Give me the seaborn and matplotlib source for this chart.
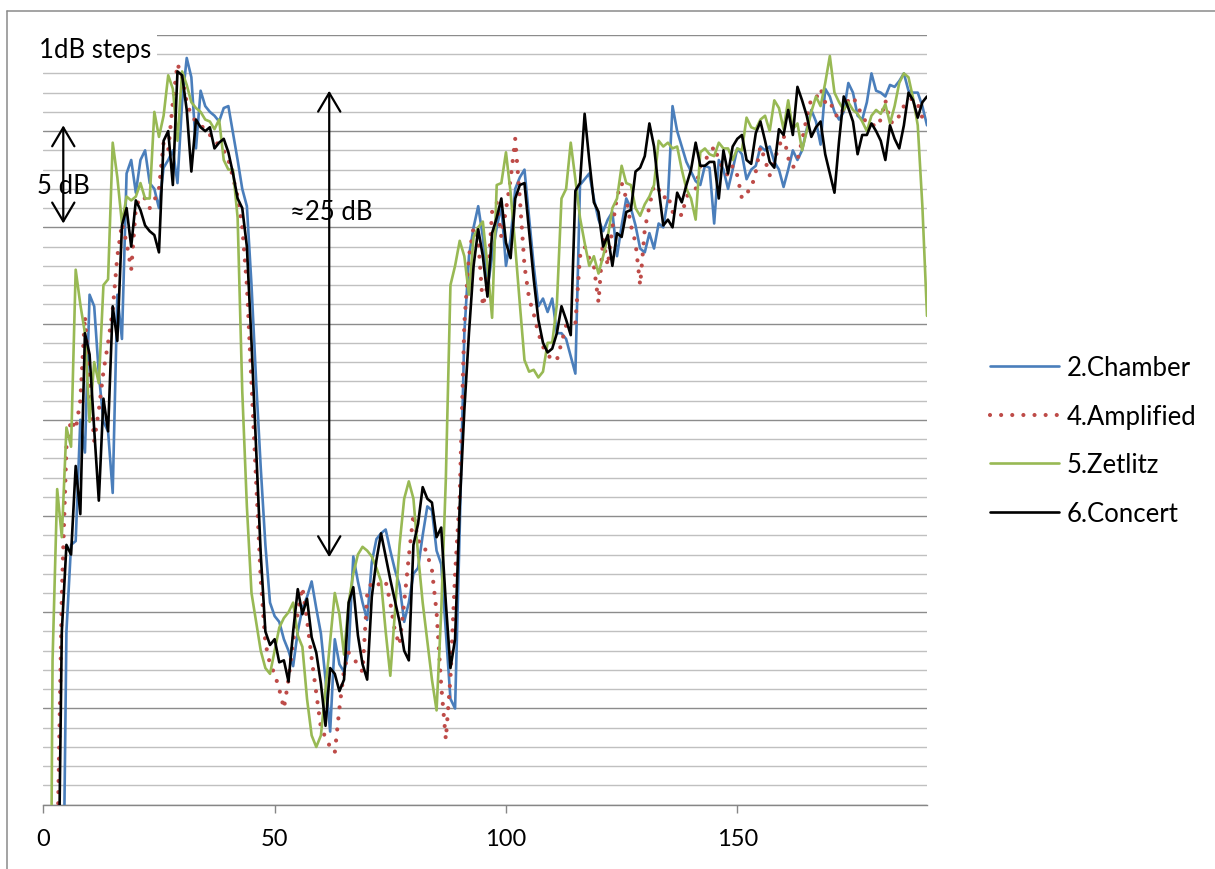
import matplotlib
matplotlib.use("Agg")
import matplotlib.pyplot as plt
import seaborn as sns
import pandas as pd
from matplotlib.patches import FancyArrowPatch, ArrowStyle
from matplotlib.lines import Line2D
from matplotlib.ticker import MultipleLocator

# ---------------- data (relative level in dB) ----------------
x_index = list(range(1, 192))

chamber = [
    -10, -10, -10, -12, 9, 13.5, 13.7, 20.0, 18.3, 26.5,
    25.9, 22.4, 19.9, 19.4, 16.2, 26.5, 24.2, 32.8, 33.5, 31.8,
    33.5, 34.0, 32.3, 32.0, 31.0, 33.1, 33.5, 34.0, 32.3, 36.5,
    38.8, 37.8, 34.1, 37.1, 36.3, 36.0, 35.8, 35.5, 36.2, 36.3,
    34.9, 33.5, 32.0, 31.1, 27.0, 22.0, 17.5, 13.5, 10.5, 9.8,
    9.5, 8.6, 8.0, 7.2, 9.0, 10.2, 10.8, 11.6, 10.2, 8.9,
    6.5, 3.8, 8.6, 7.3, 6.9, 8.0, 12.9, 11.6, 10.5, 9.6,
    12.6, 13.8, 14.1, 14.3, 13.2, 12.2, 11.4, 9.5, 10.5, 12.0,
    12.3, 14.0, 15.5, 15.3, 13.2, 12.5, 9.0, 5.5, 5.0, 14.3,
    24.5, 28.5, 30.0, 31.1, 29.5, 26.8, 28.5, 30.0, 31.1, 28.0,
    29.4, 32.0, 32.6, 33.0, 30.5, 28.0, 25.9, 26.3, 25.6, 26.3,
    24.5, 24.5, 24.2, 23.3, 22.4, 32.2, 32.5, 32.8, 31.5, 30.4,
    29.8, 30.4, 30.8, 28.5, 30.1, 31.5, 31.0, 30.1, 28.9, 28.7,
    29.7, 28.9, 30.2, 30.0, 31.5, 36.3, 35.0, 34.2, 33.4, 32.9,
    32.4, 32.2, 33.2, 33.1, 30.2, 33.5, 33.0, 32.0, 33.0, 34.1,
    33.8, 32.5, 33.0, 33.2, 34.2, 34.0, 34.2, 33.4, 33.0, 32.1,
    33.0, 34.0, 33.5, 34.0, 35.1, 36.1, 35.5, 34.3, 37.2, 36.8,
    36.0, 35.6, 36.0, 37.5, 37.0, 35.8, 35.6, 36.5, 38.0, 37.1,
    37.0, 36.8, 37.4, 37.3, 37.6, 38.0, 37.1, 37.0, 37.0, 36.3,
    35.3,
]

amplified = [
    -12, -12, -3, 10.9, 18.6, 20.0, 19.5, 21.0, 25.4, 21.9,
    18.9, 20.5, 22.5, 24.0, 25.7, 28.5, 30.2, 29.2, 27.8, 31.0,
    31.6, 31.5, 31.0, 31.4, 32.0, 34.4, 34.0, 36.5, 38.5, 37.8,
    36.5, 35.8, 35.5, 35.3, 35.1, 34.8, 34.6, 34.2, 34.0, 33.5,
    32.6, 31.6, 30.0, 27.0, 21.9, 16.8, 11.7, 8.4, 7.3, 6.8,
    6.0, 5.0, 6.5, 8.5, 10.0, 11.3, 9.6, 7.6, 5.8, 4.0,
    3.5, 3.0, 2.7, 5.0, 7.0, 7.9, 7.6, 7.3, 6.9, 10.9,
    11.6, 11.5, 11.4, 11.6, 10.5, 9.0, 8.3, 10.5, 12.9, 15.1,
    13.7, 13.6, 13.0, 12.2, 10.0, 6.2, 3.4, 6.6, 12.0, 16.0,
    25.0, 28.5, 30.0, 29.4, 25.9, 27.0, 30.8, 31.3, 29.5, 30.9,
    32.5, 34.6, 31.5, 28.0, 26.3, 25.5, 24.5, 23.8, 23.4, 23.1,
    23.1, 24.0, 24.9, 25.0, 25.0, 28.5, 29.0, 28.4, 28.0, 26.1,
    29.4, 28.0, 30.0, 31.6, 32.3, 31.5, 30.1, 29.2, 27.0, 29.9,
    31.1, 32.2, 32.0, 31.5, 31.7, 30.8, 30.9, 30.6, 31.6, 31.8,
    32.0, 33.2, 33.5, 33.8, 34.2, 33.5, 33.0, 32.7, 33.2, 32.7,
    31.5, 31.8, 32.0, 32.9, 34.2, 33.5, 32.7, 33.5, 34.2, 34.8,
    33.6, 33.1, 33.5, 34.5, 35.7, 36.7, 36.7, 37.2, 36.5, 36.6,
    35.9, 35.7, 36.2, 36.6, 36.8, 36.3, 35.8, 35.4, 35.4, 35.2,
    35.6, 36.6, 35.5, 35.4, 35.8, 36.3, 36.6, 36.7, 36.4, 35.7,
    35.6,
]

zetlitz = [
    -30, 7.5, 16.4, 13.9, 19.6, 18.6, 27.8, 26.0, 24.5, 19.9,
    23.0, 21.9, 27.0, 27.3, 34.4, 32.6, 30.2, 31.6, 31.4, 31.6,
    32.3, 31.5, 31.5, 36.0, 34.7, 35.8, 37.9, 37.2, 34.5, 38.1,
    37.4, 36.5, 36.2, 36.0, 35.6, 35.5, 35.1, 35.6, 33.5, 33.0,
    33.0, 30.5, 21.5, 15.5, 11.0, 9.5, 8.0, 7.1, 6.8, 8.0,
    9.2, 9.7, 10.0, 10.5, 8.8, 8.2, 5.5, 3.6, 3.0, 3.6,
    6.0, 8.5, 11.0, 9.9, 7.8, 10.5, 12.0, 13.0, 13.4, 13.2,
    12.9, 12.3, 11.6, 9.0, 6.7, 10.0, 13.5, 15.9, 16.8, 15.9,
    13.0, 10.5, 8.5, 6.5, 4.9, 10.0, 16.9, 27.0, 28.0, 29.3,
    28.5, 26.5, 29.5, 30.0, 30.3, 28.0, 25.3, 32.2, 32.3, 33.9,
    31.8, 29.0, 26.0, 23.1, 22.5, 22.6, 22.2, 22.5, 24.0, 24.0,
    26.0, 31.5, 32.0, 34.4, 32.5, 30.5, 29.2, 28.0, 28.5, 27.6,
    28.5, 29.5, 31.0, 31.5, 33.2, 32.3, 32.2, 31.0, 30.6, 31.2,
    31.6, 32.2, 34.5, 34.2, 34.4, 34.1, 34.2, 33.0, 32.0, 31.5,
    30.4, 33.9, 34.1, 33.8, 33.7, 34.4, 34.1, 34.1, 33.5, 34.1,
    34.0, 35.7, 35.2, 35.1, 35.6, 35.8, 35.0, 36.6, 36.2, 35.1,
    36.6, 35.1, 35.4, 34.0, 35.0, 36.0, 36.8, 36.3, 37.5, 38.9,
    37.0, 36.5, 36.1, 36.5, 36.1, 35.9, 35.5, 35.0, 35.8, 36.1,
    35.9, 36.4, 35.4, 36.3, 37.5, 38.0, 37.8, 36.7, 35.3, 31.1,
    25.4,
]

concert = [
    -12, -12, -10, 9.0, 13.5, 13.0, 17.6, 15.1, 24.5, 23.4,
    19.5, 15.8, 21.1, 19.4, 25.9, 24.1, 30.1, 31.0, 29.0, 31.4,
    30.9, 30.1, 29.8, 29.6, 28.7, 34.5, 35.0, 32.2, 38.1, 37.9,
    36.1, 32.9, 35.6, 35.2, 35.0, 35.2, 34.1, 34.4, 34.6, 33.9,
    32.8, 31.5, 31.0, 29.0, 24.0, 18.5, 13.0, 9.0, 8.3, 8.6,
    7.4, 7.5, 6.4, 9.0, 11.2, 9.9, 10.7, 8.7, 7.9, 6.3,
    4.1, 7.1, 6.8, 5.9, 6.5, 10.5, 11.3, 8.8, 7.3, 6.5,
    10.8, 12.7, 14.1, 12.9, 11.7, 10.6, 9.5, 8.0, 7.5, 13.5,
    14.6, 16.5, 15.9, 15.7, 13.9, 14.4, 10.5, 7.1, 8.6, 15.5,
    20.5, 24.5, 28.0, 29.9, 28.5, 26.4, 29.7, 30.5, 31.5, 29.2,
    28.4, 31.5, 32.2, 32.3, 29.8, 27.3, 25.2, 24.0, 23.5, 23.7,
    24.5, 25.9, 25.2, 24.4, 31.9, 32.3, 35.9, 33.5, 31.3, 30.8,
    29.0, 29.6, 28.0, 29.7, 29.5, 30.8, 30.9, 32.9, 33.1, 33.7,
    35.4, 34.2, 32.0, 30.1, 30.4, 30.0, 31.8, 31.3, 32.2, 33.0,
    34.4, 33.2, 33.2, 33.4, 33.4, 31.5, 34.0, 32.8, 34.2, 34.6,
    34.8, 33.5, 33.3, 34.9, 35.5, 34.5, 33.4, 33.1, 35.1, 34.8,
    36.1, 34.8, 37.3, 36.6, 35.8, 34.7, 35.2, 35.5, 33.8, 32.8,
    31.8, 34.5, 36.8, 36.2, 35.5, 33.8, 34.8, 34.8, 35.4, 35.0,
    34.5, 33.5, 35.3, 34.6, 34.1, 35.3, 37.0, 36.6, 35.7, 36.5,
    36.8,
]

series_names = ["2.Chamber", "4.Amplified", "5.Zetlitz", "6.Concert"]
x_ticks = [0, 50, 100, 150]

# ---------------- style ----------------
sns.set_theme(style="white")
plt.rcParams["font.family"] = ["Lato", "DejaVu Sans"]
plt.rcParams["text.color"] = "black"

W, H = 1215, 870
fig = plt.figure(figsize=(W / 100, H / 100), dpi=100)
fig.patch.set_facecolor("white")

x0_px, x1_px = 43.3, 927.0
y0_px, y1_px = 805.7, 35.9
ax = fig.add_axes([x0_px / W, 1 - y0_px / H, (x1_px - x0_px) / W, (y0_px - y1_px) / H])
ax.set_facecolor("white")

df = pd.DataFrame({"x": x_index, series_names[0]: chamber, series_names[1]: amplified,
                   series_names[2]: zetlitz, series_names[3]: concert})

colors = ["#4A7EBB", "#BE4B48", "#98B954", "#000000"]
for name, col in zip(series_names, colors):
    if name == "4.Amplified":
        sns.lineplot(data=df, x="x", y=name, ax=ax, color=col, lw=3.0,
                     linestyle=(0, (0.001, 2.67)), dash_capstyle="round",
                     label=name, zorder=3)
    else:
        sns.lineplot(data=df, x="x", y=name, ax=ax, color=col, lw=1.9,
                     label=name, zorder=3)

ax.set_xlim(0, 191)
ax.set_ylim(0, 40)
ax.set_xlabel("")
ax.set_ylabel("")

ax.yaxis.set_major_locator(MultipleLocator(5))
ax.yaxis.set_minor_locator(MultipleLocator(1))
ax.grid(False)
ax.grid(which="major", axis="y", color="#8c8c8c", lw=1.0, zorder=0)
ax.grid(which="minor", axis="y", color="#c0c0c0", lw=1.0, zorder=0)
ax.set_axisbelow(True)
ax.tick_params(axis="y", which="both", left=False, labelleft=False)

ax.set_xticks(x_ticks)
ax.set_xticklabels([str(t) for t in x_ticks])
ax.tick_params(axis="x", which="major", bottom=True, length=5.5, width=1.0,
               color="#868686", labelsize=17, labelcolor="black", pad=11.5, direction="out")
ax.tick_params(axis="x", which="minor", bottom=False)
for s in ["top", "right", "left"]:
    ax.spines[s].set_visible(False)
ax.spines["bottom"].set_color("#868686")
ax.spines["bottom"].set_linewidth(1.0)

# ---------------- annotations ----------------
FS = 18.5
ax.text(11.3, 38.84, "1dB steps", ha="center", va="baseline", fontsize=FS,
        bbox=dict(facecolor="white", edgecolor="none", pad=3.5), zorder=6)
ax.text(4.4, 31.78, "5 dB", ha="center", va="baseline", fontsize=FS, zorder=6)
ax.text(62.2, 30.43, "\u224825 dB", ha="center", va="baseline", fontsize=FS, zorder=6)

arrow_style = ArrowStyle("<->", head_length=13.5, head_width=8)
small_arrow = ((4.32, 30.2), (4.32, 35.3))
big_arrow = ((61.8, 12.86), (61.8, 37.1))
for (pa, pb) in (small_arrow, big_arrow):
    ax.add_patch(FancyArrowPatch(pa, pb, arrowstyle=arrow_style, mutation_scale=1,
                                 color="black", lw=1.6, shrinkA=0, shrinkB=0, zorder=5,
                                 clip_on=False))

# ---------------- legend ----------------
handles, labels = ax.get_legend_handles_labels()
if ax.get_legend() is not None:
    ax.get_legend().remove()
fig.legend(handles, labels, loc="center left", bbox_to_anchor=(990 / W, 1 - 441.5 / H),
           frameon=False, fontsize=FS, handlelength=2.68, handletextpad=0.31,
           labelspacing=0.91, borderpad=0, borderaxespad=0)

# ---------------- outer chart-area border ----------------
bx, by = 7 / W, 1 - 12 / H
fig.add_artist(Line2D([bx, bx], [0, by], transform=fig.transFigure, color="#8a8a8a", lw=1.1))
fig.add_artist(Line2D([bx, 1], [by, by], transform=fig.transFigure, color="#8a8a8a", lw=1.1))

fig.savefig("out.png", dpi=100, facecolor="white")
